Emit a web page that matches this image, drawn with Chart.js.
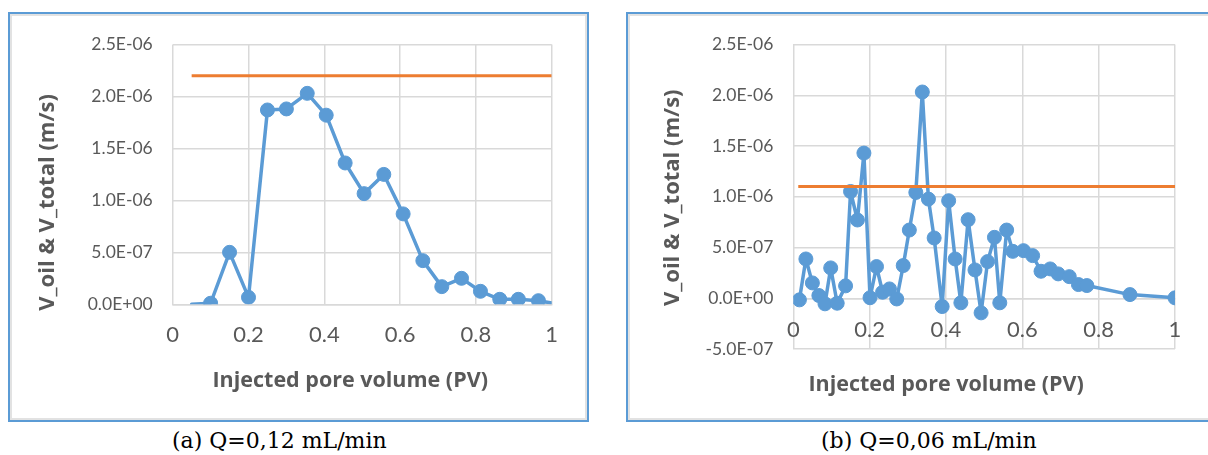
<!DOCTYPE html>
<html>
<head>
<meta charset="utf-8">
<script src="https://cdn.jsdelivr.net/npm/chart.js@4.4.1/dist/chart.umd.min.js"></script>
<style>
  html, body { margin: 0; padding: 0; background: #fff; width: 1208px; height: 455px; overflow: hidden; }
  .frame { position: absolute; border: 2px solid #5B9BD5; box-shadow: inset 0 0 0 2px #e2e2e2; background: #fff; }
  .frame canvas { position: absolute; left: 0; top: 0; }
  .caption { position: absolute; font-family: "DejaVu Serif", serif; font-size: 22px; color: #000; white-space: nowrap; }
</style>
</head>
<body>
<div class="frame" style="left:8px; top:12px; width:577px; height:406px;"><canvas id="chartA" width="577" height="406"></canvas></div>
<div class="frame" style="left:626px; top:12px; width:590px; height:406px;"><canvas id="chartB" width="590" height="406"></canvas></div>
<div class="caption" style="left:172px; top:428px;">(a) Q=0,12 mL/min</div>
<div class="caption" style="left:821px; top:428px;">(b) Q=0,06 mL/min</div>

<script>
// (a) Q = 0.12 mL/min
const pvA = [0.05, 0.1, 0.15, 0.2, 0.25, 0.3, 0.355, 0.405, 0.455, 0.505, 0.557, 0.608, 0.66, 0.71, 0.762, 0.812, 0.863, 0.912, 0.965, 1.0];
const vOilA = [0, 1e-8, 5.0e-7, 6.7e-8, 1.87e-6, 1.88e-6, 2.03e-6, 1.82e-6, 1.36e-6, 1.065e-6, 1.25e-6, 8.7e-7, 4.2e-7, 1.7e-7, 2.5e-7, 1.25e-7, 4.8e-8, 4.8e-8, 3.5e-8, 1.2e-8];
const pvTotalA = [0.05, 1.0];
const vTotalA = [2.2e-6, 2.2e-6];

// (b) Q = 0.06 mL/min
const pvB = [0.016, 0.033, 0.05, 0.067, 0.083, 0.098, 0.115, 0.137, 0.150, 0.168,
  0.185, 0.201, 0.218, 0.234, 0.252, 0.271, 0.288, 0.304, 0.321, 0.338,
  0.354, 0.369, 0.390, 0.407, 0.424, 0.439, 0.458, 0.476, 0.492, 0.509,
  0.527, 0.541, 0.559, 0.575, 0.603, 0.627, 0.649, 0.673, 0.694, 0.723,
  0.747, 0.769, 0.882, 1.0];
const vOilB = [-1.6e-8, 3.87e-7, 1.51e-7, 2.7e-8, -5.5e-8, 2.99e-7, -4.9e-8, 1.22e-7, 1.052e-6, 7.71e-7,
  1.43e-6, 5e-9, 3.12e-7, 5.9e-8, 9.2e-8, -7e-9, 3.22e-7, 6.72e-7, 1.042e-6, 2.032e-6,
  9.77e-7, 5.94e-7, -8.2e-8, 9.61e-7, 3.87e-7, -4.5e-8, 7.74e-7, 2.79e-7, -1.44e-7, 3.61e-7,
  6.0e-7, -4.5e-8, 6.72e-7, 4.62e-7, 4.69e-7, 4.2e-7, 2.66e-7, 2.89e-7, 2.4e-7, 2.13e-7,
  1.35e-7, 1.25e-7, 3.6e-8, 4e-9];
const pvTotalB = [0.013, 1.0];
const vTotalB = [1.1e-6, 1.1e-6];

// axis ticks
const xTicks = [0, 0.2, 0.4, 0.6, 0.8, 1];
const xLabels = ['0', '0.2', '0.4', '0.6', '0.8', '1'];
const yTicksA = [0, 5e-7, 1e-6, 1.5e-6, 2e-6, 2.5e-6];
const yLabelsA = ['0.0E+00', '5.0E-07', '1.0E-06', '1.5E-06', '2.0E-06', '2.5E-06'];
const yTicksB = [-5e-7, 0, 5e-7, 1e-6, 1.5e-6, 2e-6, 2.5e-6];
const yLabelsB = ['-5.0E-07', '0.0E+00', '5.0E-07', '1.0E-06', '1.5E-06', '2.0E-06', '2.5E-06'];

const xTitle = 'Injected pore volume (PV)';
const yTitle = 'V_oil & V_total (m/s)';

const BLUE = '#5B9BD5';
const ORANGE = '#ED7D31';
const GRID = '#d9d9d9';
const TEXT = '#595959';

const toPoints = (xs, ys) => xs.map((x, i) => ({ x: x, y: ys[i] }));

// draws the two axis titles at offsets from the plot area
const axisTitles = {
  id: 'axisTitles',
  afterDraw(chart, args, opts) {
    const ctx = chart.ctx;
    const area = chart.chartArea;
    ctx.save();
    ctx.fillStyle = TEXT;
    ctx.textAlign = 'center';
    ctx.textBaseline = 'middle';
    ctx.font = 'bold 21.5px "Open Sans"';
    ctx.fillText(xTitle, (area.left + area.right) / 2 + opts.xDx, area.bottom + opts.xDy);
    ctx.translate(area.left - opts.yDx, (area.top + area.bottom) / 2 + opts.yDy);
    ctx.rotate(-Math.PI / 2);
    ctx.font = 'bold 22px "Open Sans"';
    ctx.fillText(yTitle, 0, 0);
    ctx.restore();
  }
};

function makeChart(id, xs, ys, refX, refY, yTicks, yLabels, radii, pad, titles) {
  return new Chart(document.getElementById(id), {
    type: 'line',
    data: {
      datasets: [
        {
          data: toPoints(refX, refY),
          borderColor: ORANGE,
          borderWidth: 3,
          pointRadius: 0,
          tension: 0
        },
        {
          data: toPoints(xs, ys),
          borderColor: BLUE,
          borderWidth: 3.5,
          borderJoinStyle: 'round',
          borderCapStyle: 'round',
          backgroundColor: BLUE,
          pointBackgroundColor: BLUE,
          pointBorderColor: BLUE,
          pointBorderWidth: 1,
          pointRadius: radii,
          tension: 0
        }
      ]
    },
    options: {
      responsive: false,
      animation: false,
      devicePixelRatio: 1,
      layout: { padding: { left: 0, top: pad.top, right: pad.right, bottom: pad.bottom } },
      plugins: {
        legend: { display: false },
        tooltip: { enabled: false },
        axisTitles: titles
      },
      scales: {
        x: {
          type: 'linear',
          position: { y: 0 },
          min: 0,
          max: 1,
          afterBuildTicks: s => { s.ticks = xTicks.map(v => ({ value: v })); },
          ticks: {
            callback: (v, i) => xLabels[i],
            color: TEXT,
            font: { family: 'Lato', size: 22 },
            padding: pad.xPad,
            maxRotation: 0
          },
          grid: { color: GRID, lineWidth: 1.5, drawTicks: false },
          border: { display: true, color: GRID, width: 1.5 }
        },
        y: {
          type: 'linear',
          min: yTicks[0],
          max: yTicks[yTicks.length - 1],
          afterBuildTicks: s => { s.ticks = yTicks.map(v => ({ value: v })); },
          afterFit: s => { s.width = pad.left; },
          ticks: {
            callback: (v, i) => yLabels[i],
            color: TEXT,
            font: { family: 'Lato', size: 17.5 },
            padding: 20
          },
          grid: { color: GRID, lineWidth: 1.5, drawTicks: false },
          border: { display: false }
        }
      }
    },
    plugins: [axisTitles]
  });
}

const radiiA = pvA.map((x, i) => (i === 0 || i === pvA.length - 1) ? 0 : 7);
const radiiB = pvB.map(() => 7);

makeChart('chartA', pvA, vOilA, pvTotalA, vTotalA, yTicksA, yLabelsA, radiiA,
  { left: 162.7, top: 28, right: 35.3, bottom: 115.7, xPad: 17 },
  { xDx: -12, xDy: 77, yDx: 125, yDy: 28 });

makeChart('chartB', pvB, vOilB, pvTotalB, vTotalB, yTicksB, yLabelsB, radiiB,
  { left: 165.3, top: 29.6, right: 43, bottom: 71, xPad: 18 },
  { xDx: -38, xDy: 36, yDx: 121, yDy: 1 });
</script>
</body>
</html>
